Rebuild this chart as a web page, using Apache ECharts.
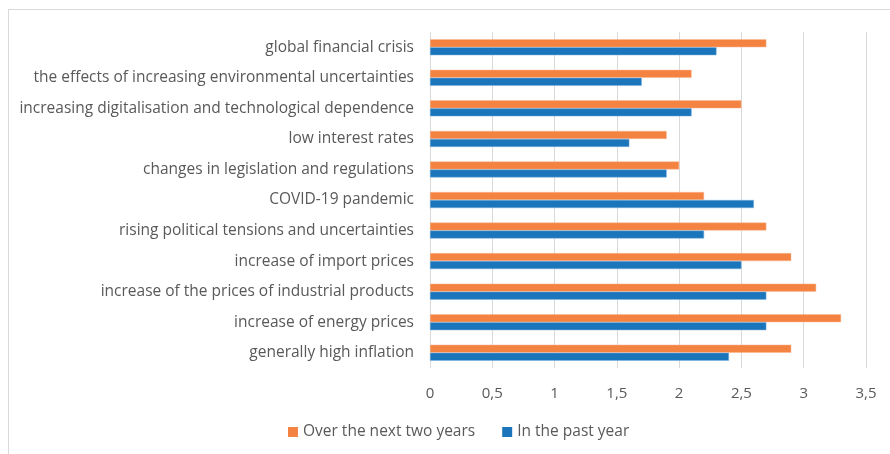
<!DOCTYPE html>
<head>
    <meta charset="utf-8">
    <title>Risk factors</title>
    <script src="https://cdn.jsdelivr.net/npm/echarts@6/dist/echarts.min.js"></script>
    <style>body{margin:0;background:#fff}</style>
</head>
<body>
    <div id="main" style="width:890px;height:454px"></div>
    <script type="text/javascript">
        var categories = ['generally high inflation', 'increase of energy prices',
            'increase of the prices of industrial products', 'increase of import prices',
            'rising political tensions and uncertainties', 'COVID-19 pandemic',
            'changes in legislation and regulations', 'low interest rates',
            'increasing digitalisation and technological dependence',
            'the effects of increasing environmental uncertainties', 'global financial crisis'];
        var nextTwoYears = [2.9, 3.3, 3.1, 2.9, 2.7, 2.2, 2.0, 1.9, 2.5, 2.1, 2.7];
        var pastYear = [2.4, 2.7, 2.7, 2.5, 2.2, 2.6, 1.9, 1.6, 2.1, 1.7, 2.3];

        var myChart = echarts.init(document.getElementById('main'));
        var txt = '#595959';
        var option = {
            animation: false,
            textStyle: { fontFamily: 'Open Sans' },
            graphic: [
                { type: 'line', shape: { x1: 8, y1: 9.5, x2: 890, y2: 9.5 }, style: { stroke: '#d9d9d9', lineWidth: 1 } },
                { type: 'line', shape: { x1: 8.5, y1: 9, x2: 8.5, y2: 454 }, style: { stroke: '#d9d9d9', lineWidth: 1 } }
            ],
            legend: {
                data: ['Over the next two years', 'In the past year'],
                bottom: 9,
                left: 283,
                itemWidth: 10, itemHeight: 10, itemGap: 27,
                icon: 'rect',
                itemStyle: { borderWidth: 0 },
                textStyle: { color: txt, fontSize: 15.5, fontFamily: 'Open Sans' }
            },
            grid: { left: 430, right: 24, top: 32, bottom: 86 },
            xAxis: {
                type: 'value', min: 0, max: 3.5, interval: 0.5,
                axisLine: { show: false }, axisTick: { show: false },
                splitLine: { lineStyle: { color: '#d9d9d9' } },
                axisLabel: {
                    color: txt, fontSize: 15, margin: 18,
                    formatter: function (v) { return String(v).replace('.', ','); }
                }
            },
            yAxis: {
                type: 'category', data: categories,
                axisLine: { show: false }, axisTick: { show: false },
                axisLabel: { color: txt, fontSize: 15.5, margin: 16 }
            },
            series: [
                {
                    name: 'Over the next two years', type: 'bar', data: nextTwoYears,
                    barWidth: 8, barGap: '0%',
                    itemStyle: { color: '#f48240', borderColor: '#f8b995', borderWidth: 0.5 }
                },
                {
                    name: 'In the past year', type: 'bar', data: pastYear,
                    barWidth: 8, barGap: '0%',
                    itemStyle: { color: '#1b75bb', borderColor: '#7fb0dc', borderWidth: 0.5 }
                }
            ]
        };
        myChart.setOption(option);
    </script>
</body>
